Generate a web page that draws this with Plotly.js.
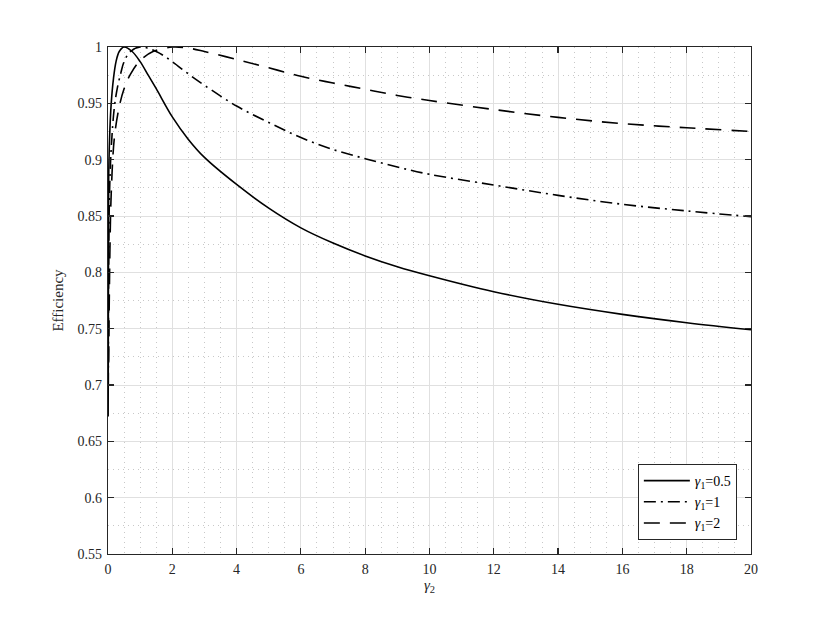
<!DOCTYPE html>
<html>
<head>
<meta charset="utf-8">
<script src="https://cdn.plot.ly/plotly-3.0.1.min.js"></script>
<style>html,body{margin:0;padding:0;background:#fff;}#chart{width:830px;height:623px;}</style>
</head>
<body>
<div id="chart"></div>
<script>
// gamma_1 = 0.5 (solid)
const g2_a  = [0.005,0.02,0.05,0.1,0.17,0.25,0.35,0.5,0.75,1.0,1.25,1.5,2.0,2.5,3,4,5,6,7,8,9,10,12,14,16,18,20];
const eff_a = [0.672,0.88,0.92,0.95,0.972,0.987,0.996,1.0,0.996,0.987,0.975,0.963,0.938,0.918,0.902,0.878,0.857,0.8395,0.826,0.8146,0.805,0.797,0.7828,0.7716,0.7627,0.7553,0.749];
// gamma_1 = 1 (dash-dot)
const g2_b  = [0.01,0.04,0.1,0.2,0.3,0.4,0.5,0.7,1.0,1.5,2.0,2.5,3,4,5,6,7,8,9,10,12,14,16,18,20];
const eff_b = [0.70,0.86,0.91,0.947,0.965,0.977,0.987,0.996,1.0,0.996,0.987,0.976,0.966,0.9476,0.933,0.9196,0.909,0.9009,0.8935,0.887,0.8775,0.8683,0.8604,0.8545,0.8494];
// gamma_1 = 2 (dashed)
const g2_c  = [0.02,0.06,0.1,0.2,0.35,0.5,0.7,1.0,1.4,2.0,2.5,3,4,5,6,7,8,9,10,12,14,16,18,20];
const eff_c = [0.72,0.82,0.87,0.92,0.947,0.963,0.976,0.988,0.996,1.0,0.999,0.996,0.989,0.9815,0.974,0.968,0.9625,0.957,0.9525,0.9445,0.9375,0.932,0.9283,0.925];

const seriesNames = ['<i>γ</i><sub>1</sub>=0.5','<i>γ</i><sub>1</sub>=1','<i>γ</i><sub>1</sub>=2'];
const xTicks = [0,2,4,6,8,10,12,14,16,18,20];
const xTickText = ['0','2','4','6','8','10','12','14','16','18','20'];
const yTicks = [0.55,0.6,0.65,0.7,0.75,0.8,0.85,0.9,0.95,1];
const yTickText = ['0.55','0.6','0.65','0.7','0.75','0.8','0.85','0.9','0.95','1'];

const FONT = 'Liberation Serif';
const lineW = 1.6;

const traces = [
  {x:g2_a, y:eff_a, name:seriesNames[0], mode:'lines', line:{color:'#000', width:lineW, dash:'solid', shape:'spline', smoothing:1}},
  {x:g2_b, y:eff_b, name:seriesNames[1], mode:'lines', line:{color:'#000', width:lineW, dash:'12px,5px,2px,5px', shape:'spline', smoothing:1}},
  {x:g2_c, y:eff_c, name:seriesNames[2], mode:'lines', line:{color:'#000', width:lineW, dash:'16px,10px', shape:'spline', smoothing:1}}
];

const axisCommon = {
  showline:true, linecolor:'#262626', linewidth:1.2, mirror:'ticks',
  ticks:'inside', ticklen:6, tickwidth:1.2, tickcolor:'#262626',
  showgrid:true, gridcolor:'#e0e0e0', gridwidth:1,
  zeroline:false, tickfont:{family:FONT, size:14, color:'#262626'},
  automargin:false
};

const layout = {
  width:830, height:623,
  margin:{l:108, r:79, t:47, b:69, pad:0},
  paper_bgcolor:'#fff', plot_bgcolor:'#fff',
  font:{family:FONT, size:14, color:'#262626'},
  showlegend:true,
  legend:{x:0.978, xanchor:'right', y:0.0276, yanchor:'bottom',
    bgcolor:'#fff', bordercolor:'#262626', borderwidth:1,
    font:{family:FONT, size:14, color:'#000'}, itemwidth:46, tracegroupgap:0},
  xaxis:Object.assign({}, axisCommon, {
    range:[0,20], tickmode:'array', tickvals:xTicks, ticktext:xTickText,
    ticklabelstandoff:2,
    minor:{dtick:0.5, showgrid:true, gridcolor:'#c8c8c8', gridwidth:1, griddash:'1px,4px', ticks:''},
    title:{text:'<i>γ</i><sub>2</sub>', font:{family:FONT, size:15, color:'#262626'}, standoff:2}
  }),
  yaxis:Object.assign({}, axisCommon, {
    range:[0.55,1], tickmode:'array', tickvals:yTicks, ticktext:yTickText,
    ticklabelstandoff:2,
    minor:{dtick:0.025, showgrid:true, gridcolor:'#c8c8c8', gridwidth:1, griddash:'1px,4px', ticks:''},
    title:{text:'Efficiency', font:{family:FONT, size:15, color:'#262626'}, standoff:10}
  })
};

Plotly.newPlot('chart', traces, layout, {displayModeBar:false, staticPlot:true});
</script>
</body>
</html>
